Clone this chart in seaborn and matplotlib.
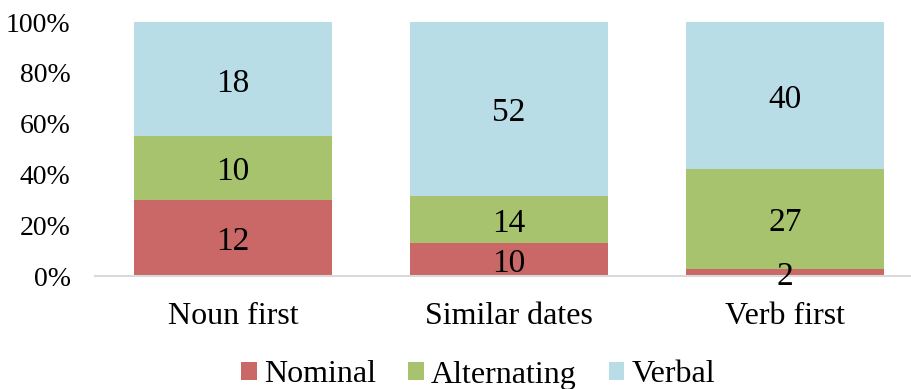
import numpy as np
import pandas as pd
import matplotlib
matplotlib.use("Agg")
import matplotlib.pyplot as plt
import seaborn as sns
from matplotlib.patches import Patch

categories = ["Noun first", "Similar dates", "Verb first"]
series_names = ["Nominal", "Alternating", "Verbal"]
nominal = [12, 10, 2]
alternating = [10, 14, 27]
verbal = [18, 52, 40]
ytick_labels = ["0%", "20%", "40%", "60%", "80%", "100%"]
colors = ["#C96866", "#A8C36D", "#B8DDE6"]

sns.set_theme(style="white")
plt.rcParams["font.family"] = ["Liberation Serif", "DejaVu Serif"]
plt.rcParams["text.color"] = "black"
plt.rcParams["xtick.color"] = "black"
plt.rcParams["ytick.color"] = "black"

counts = np.array([nominal, alternating, verbal], dtype=float)
totals = counts.sum(axis=0)
shares = counts / totals

fig = plt.figure(figsize=(9.11, 3.89), dpi=100)
ax = fig.add_axes([95 / 911, 113 / 389, (910 - 95) / 911, 254 / 389])

bottom = np.zeros(len(categories))
for i, name in enumerate(series_names):
    df = pd.DataFrame({"cat": categories, "val": shares[i]})
    sns.barplot(data=df, x="cat", y="val", color=colors[i], width=0.72,
                bottom=bottom, ax=ax, saturation=1, linewidth=0)
    for j in range(len(categories)):
        ax.annotate(f"{int(counts[i][j])}", (j, bottom[j] + shares[i][j] / 2),
                    xytext=(0, -3), textcoords="offset points",
                    ha="center", va="center", fontsize=24, color="black")
    bottom = bottom + shares[i]

ax.set_xlim(-0.5, 2.453)
ax.set_ylim(0, 1)
ax.set_yticks(np.linspace(0, 1, 6))
ax.set_yticklabels(ytick_labels, fontsize=20)
ax.set_xlabel("")
ax.set_ylabel("")
ax.tick_params(axis="x", labelsize=23, pad=19, length=0)
ax.tick_params(axis="y", pad=17.5, length=0)
for s in ["top", "right", "left"]:
    ax.spines[s].set_visible(False)
ax.spines["bottom"].set_color("#D9D9D9")
ax.spines["bottom"].set_linewidth(1.5)

handles = [Patch(facecolor=c, edgecolor="none", label=n) for c, n in zip(colors, series_names)]
fig.legend(handles=handles, loc="center", bbox_to_anchor=(478 / 911, 14 / 389), ncol=3,
           frameon=False, fontsize=23, handlelength=0.5, handleheight=0.5,
           handletextpad=0.22, columnspacing=1.0)

fig.savefig("out.png", dpi=100)
